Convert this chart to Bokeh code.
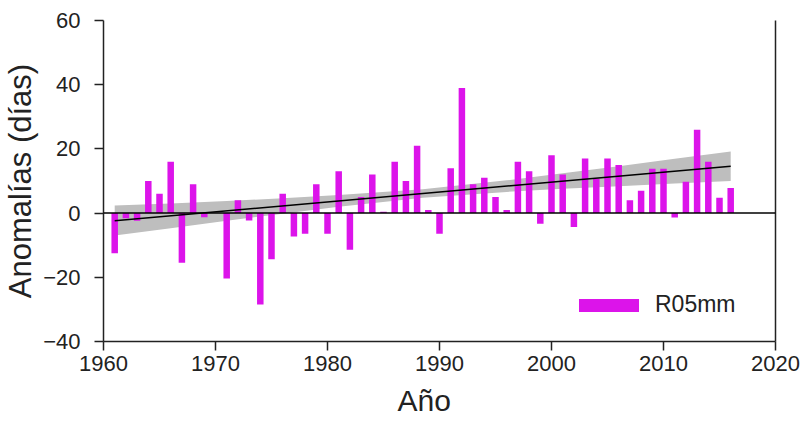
import numpy as np
from bokeh.plotting import figure
from bokeh.models import LinearAxis, Legend, LegendItem, FixedTicker, Span, ColumnDataSource, Range1d, Title
from bokeh.embed import file_html
from bokeh.resources import INLINE

# ---- data ----
years = list(range(1961, 2017))
anomalies = [-12.5, -1.6, -2.4, 10, 6, 16, -15.5, 9, -1.3, 0.0,
             -20.4, 4, -2.3, -28.5, -14.4, 6, -7.3, -6.4, 9, -6.4,
             13, -11.4, 5, 12, 0.4, 16, 10, 21, 1, -6.4,
             14, 39, 9, 11, 5, 1, 16, 13, -3.3, 18,
             12, -4.3, 17, 10.7, 17, 15, 4, 7, 13.8, 13.8,
             -1.4, 9.8, 26, 16, 4.8, 7.8]

trend_years = [1961, 2016]
trend_values = [-2.4, 14.6]

band_years = [1961, 1966, 1971, 1976, 1981, 1988.5, 1996, 2001, 2006, 2011, 2016]
band_upper = [2.4, 3.0, 3.8, 4.6, 5.6, 7.4, 10.2, 12.4, 14.6, 16.9, 19.2]
band_lower = [-7.0, -4.7, -2.4, -0.2, 2.0, 4.8, 6.6, 7.6, 8.4, 9.2, 10.0]

x_ticks = [1960, 1970, 1980, 1990, 2000, 2010, 2020]
y_ticks = [-40, -20, 0, 20, 40, 60]
series_name = "R05mm"
x_title = "Año"
y_title = "Anomalías (días)"

FONT = "Liberation Sans"
BAR_COLOR = "#DC14EA"
TXT = "#222222"

p = figure(width=804, height=439, output_backend="svg", toolbar_location=None,
           x_range=Range1d(1960, 2020), y_range=Range1d(-40, 60),
           min_border_left=101, min_border_right=29, min_border_top=20, min_border_bottom=98)
p.outline_line_color = None
p.grid.visible = False
p.background_fill_color = "white"
p.border_fill_color = "white"

# confidence band
p.varea(x=band_years, y1=band_lower, y2=band_upper, fill_color="#BEBEBE", fill_alpha=1.0)

# bars
src = ColumnDataSource(dict(x=years, top=anomalies))
bars = p.vbar(x="x", top="top", bottom=0, width=0.58, source=src,
              fill_color=BAR_COLOR, line_color=None)

# zero line
p.add_layout(Span(location=0, dimension="width", line_color="black", line_width=1.5))

# trend
p.line(trend_years, trend_values, line_color="black", line_width=1.5)

# axes styling
for ax in (p.xaxis[0], p.yaxis[0]):
    ax.axis_line_width = 1.5
    ax.axis_line_color = TXT
    ax.major_tick_line_color = TXT
    ax.major_tick_line_width = 1.5
    ax.major_tick_in = 0
    ax.major_tick_out = 9
    ax.minor_tick_line_color = None
    ax.major_label_text_font = FONT
    ax.major_label_text_color = TXT
    ax.major_label_text_font_size = "22px"
    ax.axis_label_text_font = FONT
    ax.axis_label_text_font_style = "normal"
    ax.axis_label_text_color = TXT
    ax.axis_label_text_font_size = "31px"

p.xaxis[0].ticker = FixedTicker(ticks=x_ticks)
p.yaxis[0].ticker = FixedTicker(ticks=y_ticks)
p.yaxis[0].axis_label = y_title
p.xaxis[0].major_label_standoff = 5
p.yaxis[0].major_label_standoff = 14
p.yaxis[0].axis_label_standoff = 2

# x-axis title, slightly left of the frame centre as in the reference
p.add_layout(Title(text=x_title, align="left", offset=294, standoff=16,
                   text_font=FONT, text_font_size="30px", text_font_style="normal",
                   text_color=TXT), "below")

# right frame line (plain axis, no ticks or labels)
right = LinearAxis(axis_line_width=1.5, axis_line_color=TXT,
                   major_tick_line_color=None, minor_tick_line_color=None,
                   major_label_text_font_size="0px", major_label_text_color=None)
right.ticker = FixedTicker(ticks=[])
p.add_layout(right, "right")

legend = Legend(items=[LegendItem(label=series_name, renderers=[bars])],
                location=(468, 23), glyph_width=75, glyph_height=16,
                label_standoff=9, padding=0, margin=0, spacing=0,
                border_line_color=None, background_fill_alpha=0,
                label_text_font=FONT, label_text_font_size="23px",
                label_text_color=TXT)
p.add_layout(legend, "center")

open("out.html", "w").write(file_html(p, INLINE))
